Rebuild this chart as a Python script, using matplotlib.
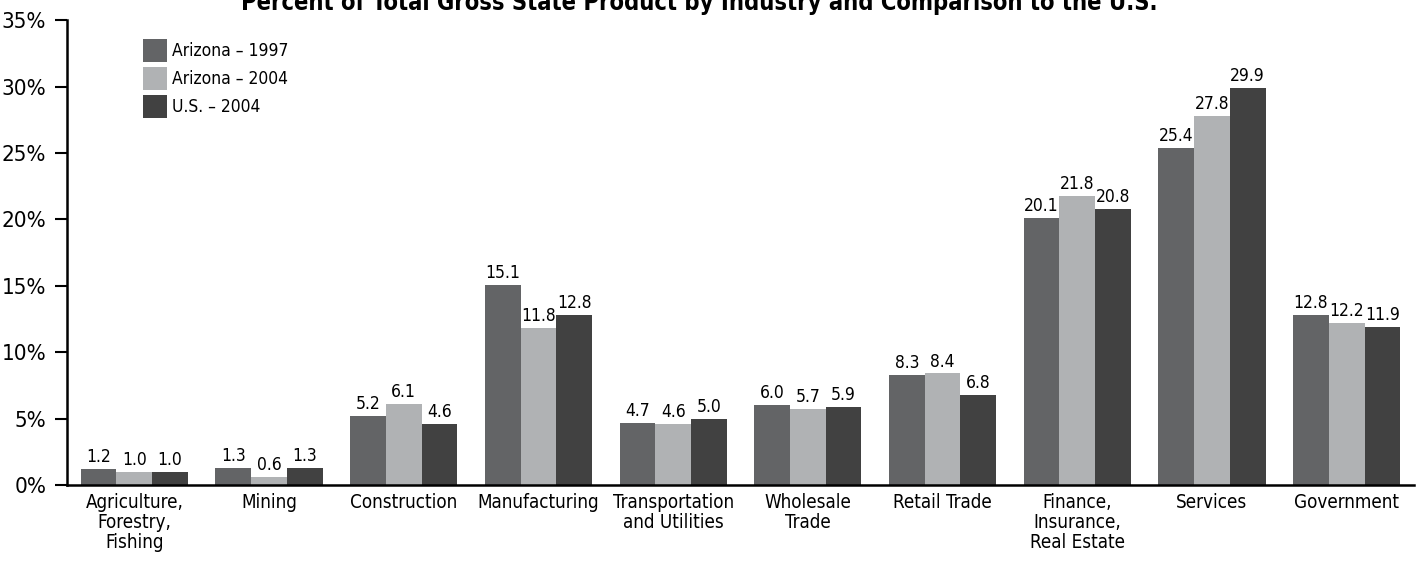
import numpy as np
import matplotlib.pyplot as plt

industries = ['Agriculture,\nForestry,\nFishing', 'Mining', 'Construction', 'Manufacturing',
              'Transportation\nand Utilities', 'Wholesale\nTrade', 'Retail Trade',
              'Finance,\nInsurance,\nReal Estate', 'Services', 'Government']
az_1997 = [1.2, 1.3, 5.2, 15.1, 4.7, 6.0, 8.3, 20.1, 25.4, 12.8]
az_2004 = [1.0, 0.6, 6.1, 11.8, 4.6, 5.7, 8.4, 21.8, 27.8, 12.2]
us_2004 = [1.0, 1.3, 4.6, 12.8, 5.0, 5.9, 6.8, 20.8, 29.9, 11.9]
series_names = ['Arizona \u2013 1997', 'Arizona \u2013 2004', 'U.S. \u2013 2004']
colors = ['#636466', '#b0b2b4', '#414141']
yticks = [0, 5, 10, 15, 20, 25, 30, 35]

plt.rcParams['font.family'] = ['Liberation Sans Narrow', 'DejaVu Sans']
plt.rcParams['font.stretch'] = 'condensed'

fig = plt.figure(figsize=(14.22, 5.63), dpi=100)
ax = fig.add_axes([0.0471, 0.1385, 0.9473, 0.8255])

x = np.arange(len(industries))
w = 0.265
for i, (vals, name, c) in enumerate(zip([az_1997, az_2004, us_2004], series_names, colors)):
    bars = ax.bar(x + (i - 1) * w, vals, w, color=c, label=name)
    for b, v in zip(bars, vals):
        ax.text(b.get_x() + b.get_width() / 2, v + 0.22, f'{v:.1f}',
                ha='center', va='bottom', fontsize=12.5)

ax.set_xlim(-0.5, 9.5)
ax.set_ylim(0, 35)
ax.set_yticks(yticks)
ax.set_yticklabels([f'{t}%' for t in yticks], fontsize=16)
ax.set_xticks(x)
ax.set_xticklabels(industries, fontsize=13.5, linespacing=1.05)
ax.tick_params(axis='x', length=0, pad=6)
ax.tick_params(axis='y', length=9, width=1.5, pad=6)
for s in ['top', 'right']:
    ax.spines[s].set_visible(False)
ax.spines['left'].set_linewidth(1.8)
ax.spines['bottom'].set_linewidth(1.8)

ax.legend(loc='upper left', bbox_to_anchor=(0.045, 0.993), frameon=False, fontsize=12.5,
          handlelength=1.38, handleheight=1.65, handletextpad=0.3, labelspacing=0.3,
          borderpad=0.4)

fig.text(0.492, 0.982, 'Percent of Total Gross State Product by Industry and Comparison to the U.S.',
         ha='center', va='baseline', fontsize=17, fontweight='bold')

fig.savefig('out.png', dpi=100)
